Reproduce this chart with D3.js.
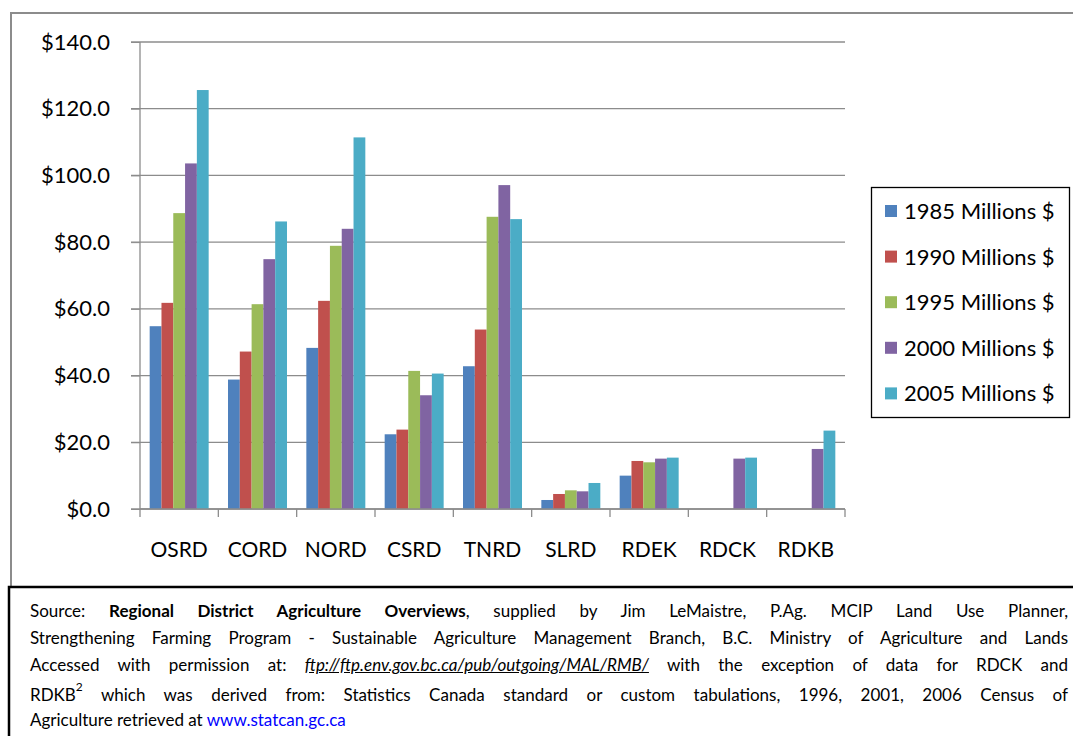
<!DOCTYPE html>
<html>
<head>
<meta charset="utf-8">
<script src="https://cdn.jsdelivr.net/npm/d3@7"></script>
<style>
  body { margin: 0; background: #fff; font-family: Lato, "Open Sans", sans-serif; }
  #wrap { position: relative; width: 1073px; height: 736px; overflow: hidden; }
  svg { position: absolute; left: 0; top: 0; }
  #caption { position: absolute; left: 30px; top: 597px; width: 1038px; font-size: 17px; color: #000; line-height: 27px; }
  #caption .ln { text-align: justify; text-align-last: justify; white-space: nowrap; }
  #caption .last { text-align: left; text-align-last: left; line-height: 24px; }
  #caption a { color: #0000ff; text-decoration: none; }
  #caption .ftp { font-style: italic; text-decoration: underline; }
  #caption sup { font-size: 12px; line-height: 0; vertical-align: baseline; position: relative; top: -10px; }
</style>
</head>
<body>
<div id="wrap"></div>
<script>
const regions = ["OSRD", "CORD", "NORD", "CSRD", "TNRD", "SLRD", "RDEK", "RDCK", "RDKB"];
const series = ["1985 Millions $", "1990 Millions $", "1995 Millions $", "2000 Millions $", "2005 Millions $"];
const colors = ["#4f81bd", "#c0504d", "#9bbb59", "#8064a2", "#4bacc6"];

// values per series, in order of regions (null = no bar)
const v1985 = [54.8, 38.8, 48.3, 22.4, 42.8, 2.7, 10.0, null, null];
const v1990 = [61.8, 47.2, 62.4, 23.8, 53.8, 4.5, 14.4, null, null];
const v1995 = [88.7, 61.4, 78.9, 41.4, 87.6, 5.6, 14.0, null, null];
const v2000 = [103.6, 74.9, 84.0, 34.1, 97.1, 5.3, 15.1, 15.1, 18.0];
const v2005 = [125.6, 86.2, 111.4, 40.6, 86.9, 7.8, 15.4, 15.4, 23.5];
const values = [v1985, v1990, v1995, v2000, v2005];

const yTicks = [0, 20, 40, 60, 80, 100, 120, 140];

const W = 1073, H = 736;
const wrap = d3.select("#wrap");
const svg = wrap.append("svg").attr("width", W).attr("height", H);

// chart frame (gray), bottom edge hidden under the caption box
svg.append("rect")
  .attr("x", 11).attr("y", 13)
  .attr("width", 1080).attr("height", 574)
  .attr("fill", "none").attr("stroke", "#8c8c8c").attr("stroke-width", 2);

const pLeft = 140, pRight = 845, pTop = 42, pBottom = 509;

const x = d3.scaleBand().domain(regions).range([pLeft, pRight]).paddingInner(0.247).paddingOuter(0.1235);
const xs = d3.scaleBand().domain(series).range([0, x.bandwidth()]);
const y = d3.scaleLinear().domain([0, 140]).range([pBottom, pTop]);

// gridlines
svg.append("g")
  .selectAll("line")
  .data(yTicks)
  .enter()
  .append("line")
  .attr("x1", pLeft - 9).attr("x2", pRight)
  .attr("y1", (d) => y(d)).attr("y2", (d) => y(d))
  .attr("stroke", "#8c8c8c").attr("stroke-width", 1.3);

// y axis
const yAxis = d3.axisLeft(y).tickValues(yTicks).tickSize(9).tickFormat((d) => "$" + d3.format(".1f")(d));
const gy = svg.append("g").attr("transform", "translate(" + pLeft + ",0)").call(yAxis);
gy.select(".domain").attr("stroke", "#8c8c8c").attr("stroke-width", 1.3).attr("d", "M0," + pTop + "V" + pBottom);
gy.selectAll(".tick line").attr("stroke", "#8c8c8c");
gy.selectAll(".tick text")
  .attr("x", -30)
  .attr("font-family", "Lato, sans-serif").attr("font-size", 22).attr("fill", "#000");

// bars
const groups = svg.append("g")
  .selectAll("g")
  .data(series)
  .enter()
  .append("g")
  .attr("fill", (d, i) => colors[i]);

groups.selectAll("rect")
  .data((s, i) => values[i].map((v, j) => ({ s: s, r: regions[j], v: v })).filter((d) => d.v != null))
  .enter()
  .append("rect")
  .attr("x", (d) => x(d.r) + xs(d.s))
  .attr("width", xs.bandwidth())
  .attr("y", (d) => y(d.v))
  .attr("height", (d) => y(0) - y(d.v));

// x axis
const step = x.step();
const gx = svg.append("g").attr("transform", "translate(0," + pBottom + ")");
gx.append("line").attr("x1", pLeft).attr("x2", pRight).attr("stroke", "#8c8c8c").attr("stroke-width", 1.3);
gx.selectAll(".tk")
  .data(d3.range(regions.length + 1))
  .enter()
  .append("line")
  .attr("x1", (d) => pLeft + d * step).attr("x2", (d) => pLeft + d * step)
  .attr("y1", 0).attr("y2", 8)
  .attr("stroke", "#8c8c8c").attr("stroke-width", 1.3);
gx.selectAll("text")
  .data(regions)
  .enter()
  .append("text")
  .attr("x", (d) => x(d) + x.bandwidth() / 2)
  .attr("y", 48)
  .attr("text-anchor", "middle")
  .attr("font-family", "Lato, sans-serif").attr("font-size", 21)
  .text((d) => d);

// legend
const lg = svg.append("g");
lg.append("rect")
  .attr("x", 871.5).attr("y", 187.5).attr("width", 198).attr("height", 230)
  .attr("fill", "#fff").attr("stroke", "#000").attr("stroke-width", 1.3);
const items = lg.selectAll("g")
  .data(series)
  .enter()
  .append("g")
  .attr("transform", (d, i) => "translate(885," + (211 + i * 45.6) + ")");
items.append("rect").attr("x", 0).attr("y", -6).attr("width", 12).attr("height", 12).attr("fill", (d, i) => colors[i]);
items.append("text")
  .attr("x", 19).attr("y", 8)
  .attr("font-family", "Lato, sans-serif").attr("font-size", 22)
  .text((d) => d);

// caption box
svg.append("rect")
  .attr("x", 9).attr("y", 587)
  .attr("width", 1100).attr("height", 200)
  .attr("fill", "#fff").attr("stroke", "#000").attr("stroke-width", 2.5);

const cap = wrap.append("div").attr("id", "caption");
cap.append("div").attr("class", "ln")
  .html("Source: <b>Regional District Agriculture Overviews</b>, supplied by Jim LeMaistre, P.Ag. MCIP Land Use Planner,");
cap.append("div").attr("class", "ln")
  .html("Strengthening Farming Program - Sustainable Agriculture Management Branch, B.C. Ministry of Agriculture and Lands");
cap.append("div").attr("class", "ln")
  .html("Accessed with permission at: <span class=\"ftp\">ftp://ftp.env.gov.bc.ca/pub/outgoing/MAL/RMB/</span> with the exception of data for RDCK and");
cap.append("div").attr("class", "ln").style("margin-top", "3px")
  .html("RDKB<sup>2</sup> which was derived from: Statistics Canada standard or custom tabulations, 1996, 2001, 2006 Census of");
cap.append("div").attr("class", "ln last")
  .html("Agriculture retrieved at <a>www.statcan.gc.ca</a>");
</script>
</body>
</html>
